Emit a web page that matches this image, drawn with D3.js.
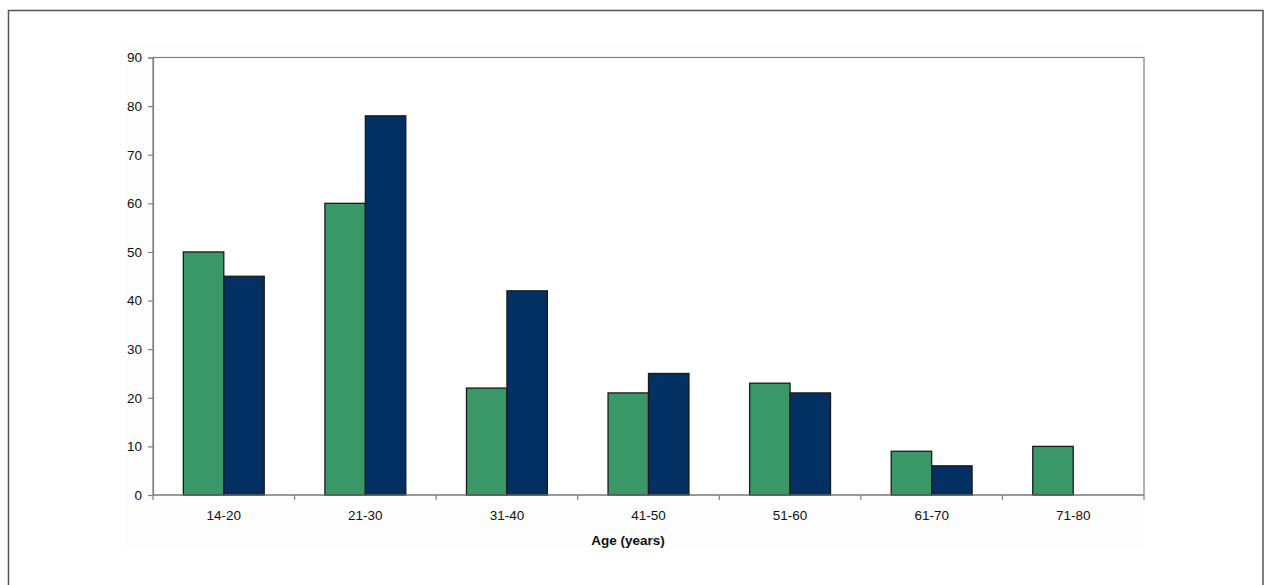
<!DOCTYPE html>
<html>
<head>
<meta charset="utf-8">
<script src="https://cdn.jsdelivr.net/npm/d3@7"></script>
<style>
  html, body { margin: 0; padding: 0; background: #ffffff; }
  svg { display: block; }
  text { font-family: Arial, "Liberation Sans", sans-serif; }
</style>
</head>
<body>
<svg id="chart" width="1269" height="585"></svg>
<script>
const categories = ["14-20", "21-30", "31-40", "41-50", "51-60", "61-70", "71-80"];
const seriesA = [50, 60, 22, 21, 23, 9, 10];
const seriesB = [45, 78, 42, 25, 21, 6, null];
const yTicks = [0, 10, 20, 30, 40, 50, 60, 70, 80, 90];
const xTitle = "Age (years)";

const svg = d3.select("#chart");
const plot = { left: 153, right: 1144, top: 57.5, bottom: 495 };

// outer frame (bottom edge outside view)
svg.append("rect")
  .attr("x", 8.5).attr("y", 10.5)
  .attr("width", 1263 - 8.5).attr("height", 600)
  .attr("fill", "#ffffff").attr("stroke", "#555555").attr("stroke-width", 1.5);

// subtle chart area background
svg.append("rect")
  .attr("x", 125).attr("y", 45)
  .attr("width", 1146 - 125).attr("height", 548 - 45)
  .attr("fill", "#fdfdfd");

const x = d3.scaleBand().domain(categories).range([plot.left, plot.right]).paddingInner(0).paddingOuter(0);
const y = d3.scaleLinear().domain([0, 90]).range([plot.bottom, plot.top]);

// plot area
svg.append("rect")
  .attr("x", plot.left).attr("y", plot.top)
  .attr("width", plot.right - plot.left).attr("height", plot.bottom - plot.top)
  .attr("fill", "#ffffff").attr("stroke", "#808080").attr("stroke-width", 1.2);

const bw = x.bandwidth() / 3.5;
const inner = d3.scaleBand().domain(["A", "B"]).range([0, 2 * bw]);
const offset = (x.bandwidth() - 2 * bw) / 2;

const groups = svg.append("g");
const rows = categories.map((c, i) => ({ c, a: seriesA[i], b: seriesB[i] }));
const colors = { A: "#3a9868", B: "#033063" };

rows.forEach(r => {
  [["A", r.a], ["B", r.b]].forEach(([k, v]) => {
    if (v == null) return;
    groups.append("rect")
      .attr("x", x(r.c) + offset + inner(k))
      .attr("y", y(v))
      .attr("width", inner.bandwidth())
      .attr("height", y(0) - y(v))
      .attr("fill", colors[k])
      .attr("stroke", "#1a1a1a").attr("stroke-width", 1.3);
  });
});

// y axis
const yAxis = d3.axisLeft(y).tickValues(yTicks).tickSize(5).tickPadding(6);
const gy = svg.append("g").attr("transform", `translate(${plot.left},0)`).call(yAxis);
gy.select(".domain").attr("stroke", "#808080").attr("stroke-width", 1.2);
gy.selectAll(".tick line").attr("stroke", "#808080").attr("stroke-width", 1.2);
gy.selectAll(".tick text").attr("font-size", 13.5).attr("fill", "#111").attr("font-family", "Arial, 'Liberation Sans', sans-serif");

// x axis
const boundaries = categories.map(c => x(c)).concat([plot.right]);
const gx = svg.append("g");
gx.append("line").attr("x1", plot.left).attr("x2", plot.right)
  .attr("y1", plot.bottom).attr("y2", plot.bottom)
  .attr("stroke", "#808080").attr("stroke-width", 1.2);
gx.selectAll("line.tk").data(boundaries).enter().append("line")
  .attr("class", "tk")
  .attr("x1", d => d).attr("x2", d => d)
  .attr("y1", plot.bottom).attr("y2", plot.bottom + 5)
  .attr("stroke", "#808080").attr("stroke-width", 1.2);
gx.selectAll("text").data(categories).enter().append("text")
  .attr("x", d => x(d) + x.bandwidth() / 2)
  .attr("y", 520)
  .attr("text-anchor", "middle")
  .attr("font-size", 13.5).attr("fill", "#111")
  .text(d => d);

svg.append("text")
  .attr("x", 628).attr("y", 545)
  .attr("text-anchor", "middle")
  .attr("font-size", 13.5).attr("font-weight", "bold").attr("fill", "#111")
  .text(xTitle);
</script>
</body>
</html>
